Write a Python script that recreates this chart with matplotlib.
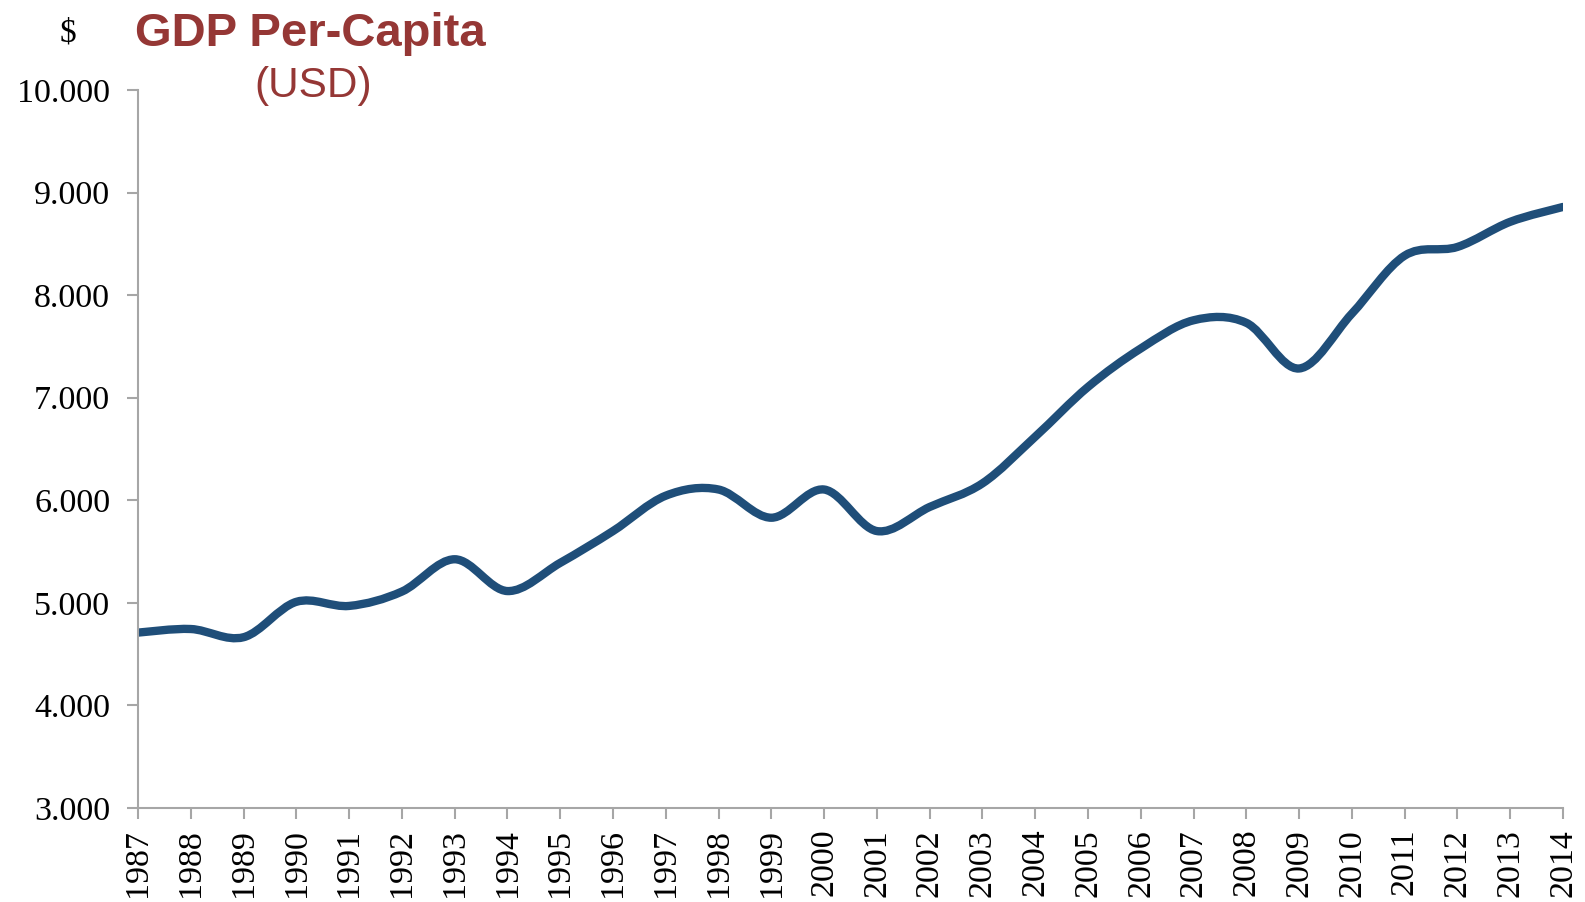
import numpy as np
import matplotlib.pyplot as plt
from matplotlib.path import Path
from matplotlib.patches import PathPatch
from matplotlib.ticker import FuncFormatter

# du lieu doc tu hinh
years = list(range(1987, 2015))
gdp = [4710, 4745, 4665, 5010, 4970, 5110, 5425, 5115, 5390, 5700,
       6045, 6105, 5830, 6105, 5700, 5935, 6165, 6620, 7105, 7480,
       7755, 7730, 7285, 7820, 8385, 8470, 8715, 8860]

line_color = '#1f4e79'
title_color = '#953735'
axis_color = '#a6a6a6'

# duong cong muot kieu excel (bezier bac 3)
def smooth_path(xs, ys):
    pts = np.column_stack([xs, ys]).astype(float)
    ext = np.vstack([pts[0], pts, pts[-1]])
    verts = [tuple(pts[0])]
    codes = [Path.MOVETO]
    for i in range(len(pts) - 1):
        p0, p1, p2, p3 = ext[i], ext[i + 1], ext[i + 2], ext[i + 3]
        c1 = p1 + (p2 - p0) / 6
        c2 = p2 - (p3 - p1) / 6
        verts += [tuple(c1), tuple(c2), tuple(p2)]
        codes += [Path.CURVE4] * 3
    return Path(verts, codes)

fig = plt.figure(figsize=(15.85, 9.02), dpi=100)
ax = fig.add_axes([138 / 1585, 1 - 808 / 902, 1425 / 1585, 718 / 902])

patch = PathPatch(smooth_path(years, gdp), facecolor='none', edgecolor=line_color,
                  lw=6, capstyle='round', joinstyle='round')
ax.add_patch(patch)

ax.set_xlim(1987, 2014)
ax.set_ylim(3000, 10000)
ax.set_xticks(years)
ax.set_xticklabels([str(y) for y in years], rotation=90)
ax.set_yticks(range(3000, 10001, 1000))
ax.yaxis.set_major_formatter(FuncFormatter(lambda v, p: '{:,.0f}'.format(v).replace(',', '.')))

for s in ['top', 'right']:
    ax.spines[s].set_visible(False)
for s in ['left', 'bottom']:
    ax.spines[s].set_color(axis_color)
    ax.spines[s].set_linewidth(1.5)

ax.tick_params(axis='both', direction='out', length=8, width=1.5, color=axis_color,
               labelsize=24.5, labelcolor='black')
ax.tick_params(axis='y', pad=12)
ax.tick_params(axis='x', pad=7)
for lab in ax.get_xticklabels() + ax.get_yticklabels():
    lab.set_family('Liberation Serif')

fig.text(135 / 1585, 1 - 46 / 902, 'GDP Per-Capita', color=title_color, fontsize=34,
         fontweight='bold', family='Liberation Sans', ha='left', va='baseline')
fig.text(313 / 1585, 1 - 97 / 902, '(USD)', color=title_color, fontsize=30.5,
         family='Liberation Sans', ha='center', va='baseline')
fig.text(68 / 1585, 1 - 42 / 902, '$', color='black', fontsize=24,
         family='Liberation Serif', ha='center', va='baseline')

fig.savefig('out.png', dpi=100)
